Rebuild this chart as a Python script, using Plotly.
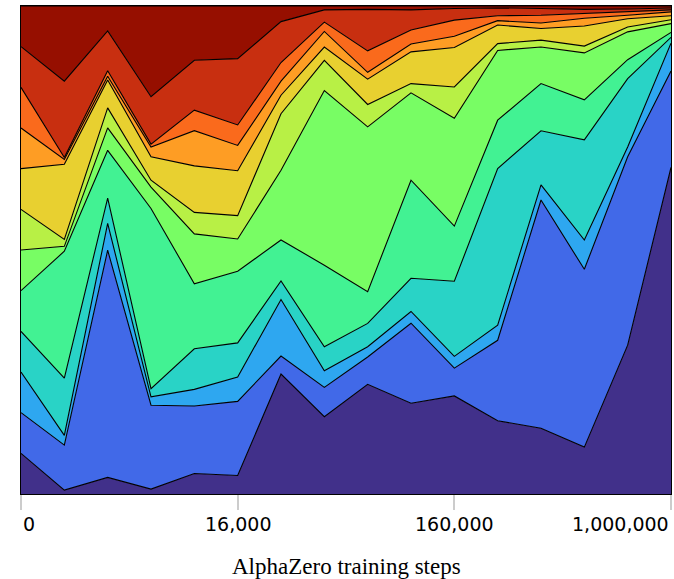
import plotly.graph_objects as go

# checkpoint index along the x axis, labelled at 0, 5, 10, 15
checkpoints = list(range(16))
tick_pos = [0, 5, 10, 15]
tick_text = ["0", "16,000", "160,000", "1,000,000"]

# share (%) of each band at every checkpoint, bottom to top
band_01 = [8.33, 0.8, 3.4, 1.0, 4.2, 3.8, 24.6, 15.8, 22.5, 18.6, 20.1, 15.0, 13.5, 9.6, 30.5, 66.8]
band_02 = [8.33, 9.2, 46.6, 17.2, 13.8, 15.2, 3.7, 6.0, 5.6, 16.4, 5.7, 16.5, 46.8, 36.4, 38.6, 19.7]
band_03 = [8.33, 2.0, 5.5, 1.7, 3.4, 5.0, 11.6, 3.4, 2.1, 2.4, 2.4, 3.1, 3.1, 6.0, 2.0, 5.7]
band_04 = [8.33, 11.7, 5.2, 1.7, 8.3, 7.0, 3.8, 4.9, 4.8, 6.8, 15.4, 32.1, 11.1, 20.5, 14.0, 1.2]
band_05 = [8.33, 26.0, 9.8, 36.9, 13.3, 14.7, 8.4, 16.7, 6.5, 20.1, 11.3, 9.9, 9.7, 8.2, 3.9, 1.0]
band_06 = [8.33, 1.0, 4.6, 4.4, 10.2, 6.6, 14.3, 35.7, 33.8, 17.9, 22.1, 14.3, 7.5, 9.6, 5.7, 1.8]
band_07 = [8.33, 1.4, 4.1, 1.4, 4.4, 4.8, 11.6, 6.2, 4.6, 1.9, 6.4, 1.4, 1.4, 1.4, 1.0, 0.8]
band_08 = [8.33, 15.4, 5.7, 4.8, 9.5, 9.2, 3.8, 2.7, 5.2, 6.5, 8.1, 3.8, 2.4, 4.1, 1.7, 0.8]
band_09 = [8.33, 1.0, 0.8, 2.0, 7.2, 5.2, 2.9, 3.2, 1.4, 1.6, 2.3, 0.9, 1.1, 1.6, 0.7, 0.8]
band_10 = [8.33, 0.4, 1.1, 0.6, 4.2, 4.2, 3.8, 1.9, 4.4, 2.9, 3.3, 1.0, 1.6, 1.0, 0.7, 0.4]
band_11 = [8.33, 15.6, 8.2, 9.7, 10.2, 13.6, 8.4, 2.5, 8.5, 4.1, 2.4, 1.6, 1.4, 0.8, 0.6, 0.4]
band_12 = [8.33, 15.4, 5.1, 18.6, 11.1, 10.8, 3.2, 0.8, 0.7, 0.8, 0.5, 0.4, 0.5, 0.7, 0.6, 0.4]

bands = [band_01, band_02, band_03, band_04, band_05, band_06,
         band_07, band_08, band_09, band_10, band_11, band_12]
colors = ["#41308a", "#4169e8", "#2ea7f0", "#29d3c6", "#42f293", "#78fd64",
          "#b8f045", "#e8d030", "#fe9d24", "#fa6a1c", "#c82f10", "#960f00"]

fig = go.Figure()
for i, vals in enumerate(bands):
    fig.add_trace(go.Scatter(
        x=checkpoints, y=vals,
        mode="lines",
        stackgroup="one", groupnorm="percent",
        line=dict(color="black", width=1.1),
        fillcolor=colors[i],
        name="band %d" % (i + 1),
        showlegend=False
    ))

fig.update_layout(
    width=674, height=579, autosize=False,
    margin=dict(l=21, r=3, t=6, b=85),
    paper_bgcolor="white", plot_bgcolor="white",
    xaxis=dict(range=[0, 15], tickvals=tick_pos, showticklabels=False,
               ticks="outside", ticklen=15, tickwidth=1.5, tickcolor="#cccccc",
               showgrid=False, zeroline=False,
               showline=True, linecolor="black", linewidth=1, mirror=True),
    yaxis=dict(range=[0, 100], showticklabels=False, ticks="",
               showgrid=False, zeroline=False,
               showline=True, linecolor="black", linewidth=1, mirror=True),
)

# tick labels: first one left-aligned, last one right-aligned
anchors = ["left", "center", "center", "right"]
for pos, txt, anc in zip(tick_pos, tick_text, anchors):
    fig.add_annotation(x=pos, y=0, xref="x", yref="paper", text=txt,
                       showarrow=False, xanchor=anc, yanchor="middle", yshift=-30,
                       font=dict(family="DejaVu Sans", size=19, color="black"))

fig.add_annotation(x=0.5, y=0, xref="paper", yref="paper",
                   text="AlphaZero training steps", showarrow=False,
                   xanchor="center", yanchor="middle", yshift=-72,
                   font=dict(family="Liberation Serif", size=23, color="black"))

# drop the default page margin so the figure sits at the window corner
fig.write_html("out.html", config={"responsive": False, "displayModeBar": False},
               post_script="document.body.style.margin='0px';document.body.style.overflow='hidden';")
